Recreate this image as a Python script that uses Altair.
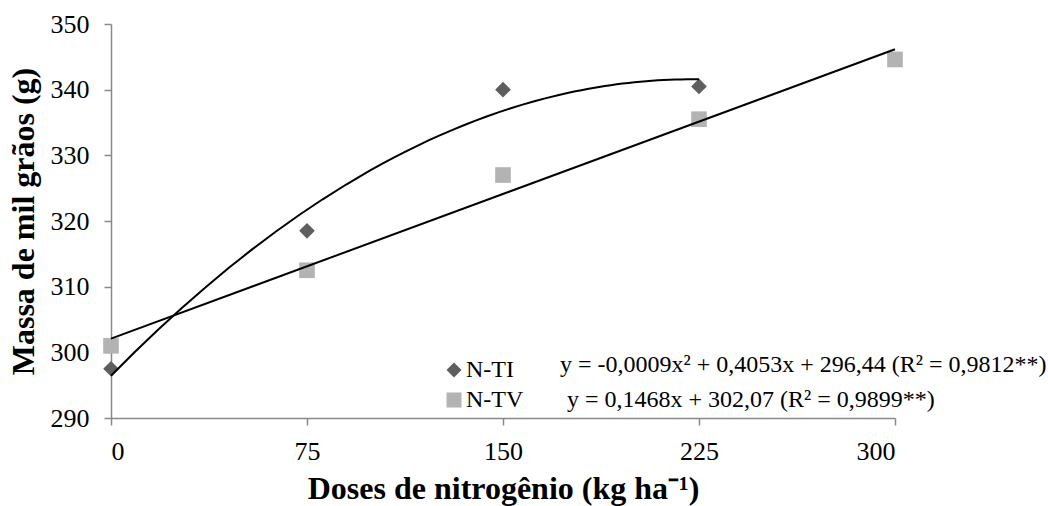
import altair as alt
import pandas as pd

# ---- data ----
doses = [0, 75, 150, 225, 300]
nti_doses = [0, 75, 150, 225]
nti_values = [297.5, 318.5, 340.0, 340.5]
ntv_doses = [0, 75, 150, 225, 300]
ntv_values = [301.0, 312.5, 327.0, 335.5, 344.6]
series_names = ["N-TI", "N-TV"]
y_ticks = [290, 300, 310, 320, 330, 340, 350]
eq_nti = "y = -0,0009x² + 0,4053x + 296,44 (R² = 0,9812**)"
eq_ntv = "y = 0,1468x + 302,07 (R² = 0,9899**)"

df = pd.DataFrame(
    {
        "dose": nti_doses + ntv_doses,
        "massa": nti_values + ntv_values,
        "serie": [series_names[0]] * len(nti_doses) + [series_names[1]] * len(ntv_doses),
    }
)

FONT = "Liberation Serif"
W, H = 784, 394
PAD_L, PAD_T = 111, 24

xscale = alt.Scale(domain=[0, 300], nice=False, zero=False)
yscale = alt.Scale(domain=[290, 350], nice=False, zero=False)

x_enc = alt.X(
    "dose:Q",
    scale=xscale,
    axis=alt.Axis(
        values=doses,
        title="Doses de nitrogênio (kg ha⁻¹)",
        titleX=W / 2,
        titleY=80,
        titleBaseline="alphabetic",
    ),
)
y_enc = alt.Y(
    "massa:Q",
    scale=yscale,
    axis=alt.Axis(
        values=y_ticks,
        title="Massa de mil grãos (g)",
        titleAngle=-90,
        titleX=-88,
        titleY=H / 2,
        titleAlign="center",
        titleBaseline="middle",
    ),
)

base = alt.Chart(df)

points = base.mark_point(filled=True, opacity=1, size=245).encode(
    x=x_enc,
    y=y_enc,
    color=alt.Color(
        "serie:N",
        scale=alt.Scale(domain=series_names, range=["#5e5e5e", "#b3b3b3"]),
        legend=alt.Legend(
            title=None,
            orient="none",
            legendX=331,
            legendY=334,
            symbolSize=225,
            labelOffset=0,
            rowPadding=6,
            padding=0,
            labelFont=FONT,
            labelFontSize=24,
            labelColor="#000000",
            symbolStrokeWidth=0,
        ),
    ),
    shape=alt.Shape(
        "serie:N",
        scale=alt.Scale(domain=series_names, range=["diamond", "square"]),
        legend=alt.Legend(title=None, orient="none", legendX=331, legendY=334),
    ),
)

fit_nti = (
    base.transform_filter(alt.datum.serie == series_names[0])
    .transform_regression("dose", "massa", method="poly", order=2)
    .mark_line(color="#000000", strokeWidth=2)
    .encode(x=alt.X("dose:Q", scale=xscale), y=alt.Y("massa:Q", scale=yscale))
)
fit_ntv = (
    base.transform_filter(alt.datum.serie == series_names[1])
    .transform_regression("dose", "massa", method="linear")
    .mark_line(color="#000000", strokeWidth=2)
    .encode(x=alt.X("dose:Q", scale=xscale), y=alt.Y("massa:Q", scale=yscale))
)

eq1 = (
    alt.Chart(pd.DataFrame({"eq": [eq_nti]}))
    .mark_text(font=FONT, fontSize=24, align="left", baseline="alphabetic", color="#000000")
    .encode(x=alt.value(449), y=alt.value(348), text="eq:N")
)
eq2 = (
    alt.Chart(pd.DataFrame({"eq": [eq_ntv]}))
    .mark_text(font=FONT, fontSize=24, align="left", baseline="alphabetic", color="#000000")
    .encode(x=alt.value(456), y=alt.value(383), text="eq:N")
)

chart = (
    alt.layer(points, fit_nti, fit_ntv, eq1, eq2)
    .properties(
        width=W,
        height=H,
        autosize=alt.AutoSizeParams(type="none"),
        padding={"left": PAD_L, "top": PAD_T, "right": 1048 - PAD_L - W, "bottom": 506 - PAD_T - H},
        background="#ffffff",
    )
    .configure_view(stroke=None)
    .configure_axis(
        grid=False,
        domainColor="#898989",
        domainWidth=1.5,
        tickColor="#898989",
        tickWidth=1.5,
        tickSize=7,
        labelFont=FONT,
        labelFontSize=26,
        labelColor="#000000",
        titleFont=FONT,
        titleFontSize=32,
        titleFontWeight="bold",
        titleColor="#000000",
    )
    .configure_axisY(labelPadding=15)
    .configure_axisX(labelPadding=13)
)

chart.save("out.html", embed_options={"renderer": "svg", "actions": False})
